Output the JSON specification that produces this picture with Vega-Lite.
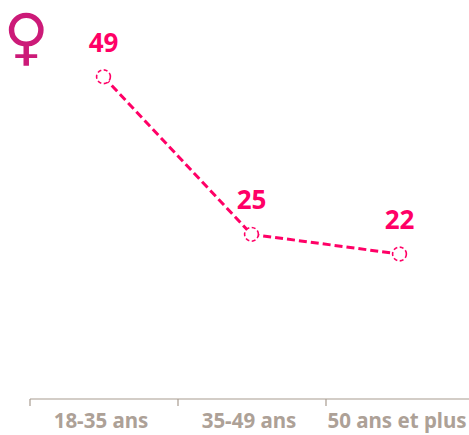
{
 "$schema":"https://vega.github.io/schema/vega-lite/v6.json",
 "width":444,"height":394,
 "autosize":{"type":"none"},
 "padding":{"left":29.5,"top":4.5,"right":0,"bottom":37},
 "background":"white",
 "view":{"stroke":null},
 "title":{"text":"♀","anchor":"start","frame":"group","orient":"top","baseline":"top","dx":-26,"offset":-66,"font":"DejaVu Sans","fontSize":62,"fontWeight":"bold","color":"#cc1a78"},
 "data":{"values":[{"age":"18-35 ans","value":49},{"age":"35-49 ans","value":25},{"age":"50 ans et plus","value":22}]},
 "encoding":{
  "x":{"field":"age","type":"nominal","sort":null,"title":null,
   "scale":{"type":"band","paddingInner":0,"paddingOuter":0},
   "axis":{"labelAngle":0,"domainColor":"#a89c90","domainWidth":1.2,"tickColor":"#a89c90","tickWidth":1.2,"tickSize":7,"tickBand":"extent","labelFont":"Noto Sans","labelFontSize":20.5,"labelFontWeight":"bold","labelColor":"#ada197","labelPadding":6,"labelOffset":-3,"labelOverlap":false,"labelLimit":0,"grid":false}},
  "y":{"field":"value","type":"quantitative","title":null,"scale":{"domain":[0,60],"nice":false},"axis":null}
 },
 "layer":[
  {"mark":{"type":"line","color":"#ff0066","strokeWidth":3,"strokeDash":[8,4]}},
  {"mark":{"type":"point","shape":"circle","size":190,"filled":false,"fill":"white","fillOpacity":1,"opacity":1,"stroke":"#ff0066","strokeWidth":1.6,"strokeDash":[4,2.5]}},
  {"mark":{"type":"text","dy":-33,"font":"Noto Sans","fontSize":26,"fontWeight":"bold","color":"#ff0066"},"encoding":{"text":{"field":"value","type":"quantitative"}}}
 ]
}
